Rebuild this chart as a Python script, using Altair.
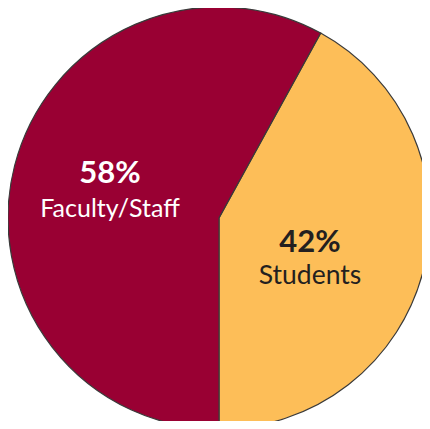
import altair as alt
import pandas as pd
import math

categories = ["Students", "Faculty/Staff"]
values = [42, 58]
pct_labels = ["42%", "58%"]

df = pd.DataFrame({"category": categories, "value": values, "pct": pct_labels,
                   "order": [0, 1]})

start = 28.8 * math.pi / 180
theta_scale = alt.Scale(domain=[0, 100], range=[start, start + 2 * math.pi])
CX, CY, R = 211, 210, 211

pie = alt.Chart(df).mark_arc(outerRadius=R, stroke="#3a3a3a", strokeWidth=1.2).encode(
    theta=alt.Theta("value:Q", stack=True, scale=theta_scale),
    order=alt.Order("order:Q"),
    x=alt.value(CX), y=alt.value(CY),
    color=alt.Color("category:N",
                    scale=alt.Scale(domain=categories, range=["#FDBE58", "#990033"]),
                    legend=None),
)

lab_base = alt.Chart(df).transform_window(
    cum="sum(value)", sort=[alt.SortField("order")]
).transform_calculate(
    mid="datum.cum - datum.value / 2"
)

FONT = "Lato"

def label(cat, field, radius, dx, dy, size, weight, color):
    return lab_base.transform_filter(alt.datum.category == cat).mark_text(
        radius=radius, dx=dx, dy=dy, fontSize=size, fontWeight=weight,
        font=FONT, color=color, baseline="alphabetic", align="center"
    ).encode(
        theta=alt.Theta("mid:Q", stack=None, scale=theta_scale),
        x=alt.value(CX), y=alt.value(CY),
        text=f"{field}:N",
    )

layers = [
    pie,
    label("Faculty/Staff", "pct", 112.5, 0, -7, 31, "bold", "#ffffff"),
    label("Faculty/Staff", "category", 112.5, 0, 27, 25, "normal", "#ffffff"),
    label("Students", "pct", 94, 0, 11, 31, "bold", "#231F20"),
    label("Students", "category", 94, 0, 43, 26.5, "normal", "#231F20"),
]

chart = alt.layer(*layers).properties(
    width=414, height=413, padding=0,
    autosize=alt.AutoSizeParams(type="none"),
).configure_view(stroke=None)

chart.save("out.html", embed_options={"renderer": "svg", "actions": False})
